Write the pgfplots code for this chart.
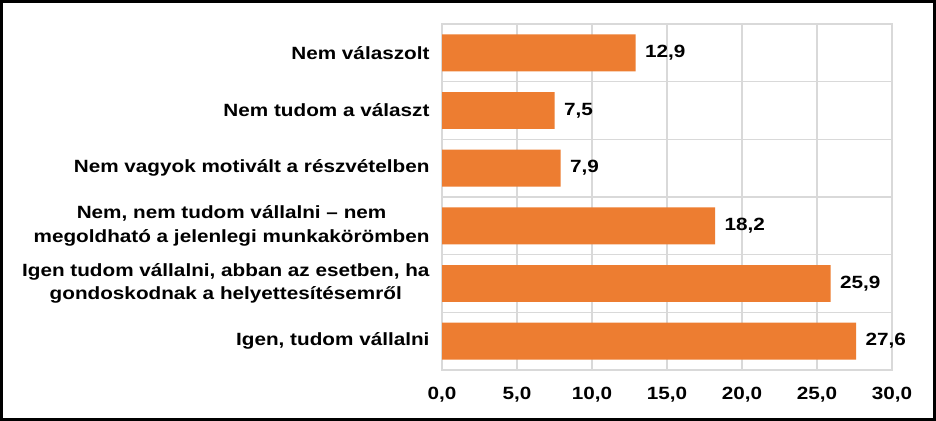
\documentclass[border=0pt]{standalone}
\usepackage{pgfplots}
\pgfplotsset{compat=1.18}
\usepackage{fontspec}
\setmainfont{Liberation Sans}[FakeStretch=1.17]
\definecolor{barorange}{HTML}{ED7D31}
\definecolor{gridgray}{HTML}{D9D9D9}
\newcommand\lblfont{\fontsize{17.7bp}{23.5bp}\selectfont\bfseries}
\begin{document}
\begin{tikzpicture}
\useasboundingbox (0,0) rectangle (936bp,421bp);
\fill[white] (0,0) rectangle (936bp,421bp);
\begin{axis}[
  at={(442bp,51bp)}, anchor=south west,
  scale only axis, width=450bp, height=346bp,
  xbar, bar width=0.64,
  xmin=0, xmax=30, ymin=-0.5, ymax=5.5,
  xtick={0,5,10,15,20,25,30},
  ytick={0,1,2,3,4,5},
  minor ytick={-0.5,0.5,1.5,2.5,3.5,4.5,5.5},
  yminorgrids, xmajorgrids,
  grid style={gridgray, line width=1.3bp},
  minor grid style={gridgray, line width=1.3bp},
  axis line style={gridgray, line width=1.3bp},
  major tick length=0pt, minor tick length=0pt,
  /pgf/number format/fixed,
  /pgf/number format/fixed zerofill,
  /pgf/number format/precision=1,
  /pgf/number format/use comma,
  /pgf/number format/assume math mode=true,
  xticklabel style={font=\lblfont, yshift=-14bp},
  yticklabel style={font=\lblfont, align=center, xshift=-9bp},
  yticklabels={{Igen, tudom vállalni},
    {Igen tudom vállalni, abban az esetben, ha\\gondoskodnak a helyettesítésemről},
    {Nem, nem tudom vállalni – nem\\megoldható a jelenlegi munkakörömben},
    {Nem vagyok motivált a részvételben},
    {Nem tudom a választ},
    {Nem válaszolt}},
  point meta=x,
  nodes near coords,
  nodes near coords style={font=\lblfont, anchor=west, xshift=6bp, black},
]
\addplot[draw=none, fill=barorange] coordinates {
  (27.6,0) (25.9,1) (18.2,2) (7.9,3) (7.5,4) (12.9,5)
};
\end{axis}
\draw[line width=3bp] (1.5bp,1.5bp) rectangle (934.5bp,419.5bp);
\end{tikzpicture}
\end{document}
